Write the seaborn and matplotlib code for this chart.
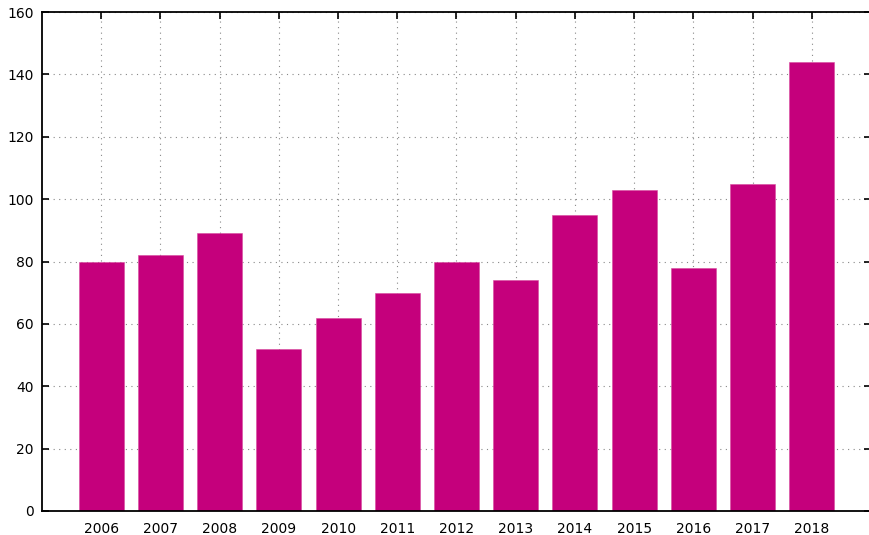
import matplotlib
matplotlib.use("Agg")
import matplotlib.pyplot as plt
import seaborn as sns
import pandas as pd

years = ["2006", "2007", "2008", "2009", "2010", "2011", "2012",
         "2013", "2014", "2015", "2016", "2017", "2018"]
values = [80, 82, 89, 52, 62, 70, 80, 74, 95, 103, 78, 105, 144]
y_ticks = [0, 20, 40, 60, 80, 100, 120, 140, 160]

sns.set_style("white")
plt.rcParams["font.family"] = ["DejaVu Sans"]

df = pd.DataFrame({"year": years, "value": values})

fig = plt.figure(figsize=(8.69, 5.35), dpi=100)
# right edge of the frame sits just past the canvas, as in the reference
ax = fig.add_axes([42 / 869, 24 / 535, (871 - 42) / 869, (511 - 12) / 535])

sns.barplot(data=df, x="year", y="value", color="#C5007C", saturation=1,
            width=0.76, edgecolor="#D84A9E", linewidth=0.4, ax=ax, zorder=3)

ax.set_xlim(-1, 13)
ax.set_ylim(0, 160)
ax.set_yticks(y_ticks)
ax.set_xlabel("")
ax.set_ylabel("")

ax.grid(True, linestyle=(0, (1, 4)), color="#888888", linewidth=0.8, zorder=0)
ax.set_axisbelow(True)

for side in ["left", "right", "top", "bottom"]:
    ax.spines[side].set_visible(True)
    ax.spines[side].set_color("black")
    ax.spines[side].set_linewidth(1.3)
    ax.spines[side].set_zorder(5)

ax.tick_params(axis="both", direction="in", length=5, width=1.2,
               labelsize=10, colors="black")
ax.tick_params(axis="y", right=True, left=True, pad=6)
ax.tick_params(axis="x", top=True, bottom=False, pad=8)

fig.savefig("out.png", dpi=100)
plt.close(fig)
